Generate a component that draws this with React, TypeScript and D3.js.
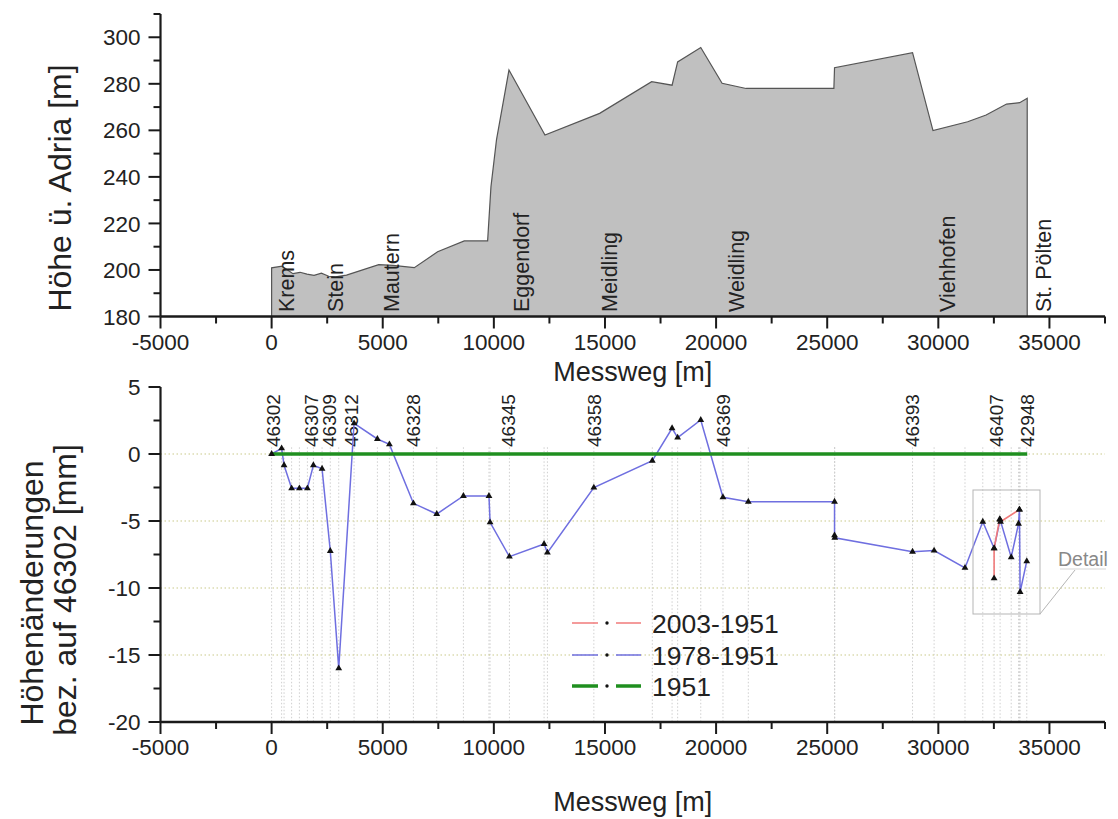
import React from 'react';
import * as d3 from 'd3';

// ---- Top chart: terrain profile (Messweg [m] vs. Höhe [m]) ----
const profileX = [0, 470, 960, 1280, 1590, 1910, 2240, 2570, 2880, 3370, 4820, 5460, 6420, 7470, 8670, 9720, 9870, 10120, 10680, 12300, 14760, 17100, 18020, 18270, 19310, 20270, 21350, 25300, 25330, 28840, 29760, 31320, 32150, 33070, 33660, 34000];
const profileH = [200.9, 201.6, 198.4, 199, 198.2, 197.7, 198.6, 197.3, 197, 197.8, 202.3, 202, 201, 207.8, 212.5, 212.5, 235.8, 256, 285.9, 258, 267.3, 280.9, 279.4, 289.4, 295.6, 280.2, 278, 278, 286.9, 293.4, 259.9, 263.7, 266.6, 271.3, 271.9, 273.8];

const townNames = ['Krems', 'Stein', 'Mautern', 'Eggendorf', 'Meidling', 'Weidling', 'Viehhofen', 'St. Pölten'];
const townX = [650, 2880, 5370, 11230, 15190, 20900, 30390, 34720];

// ---- Bottom chart: height changes [mm] ----
const s1978X = [0, 450, 560, 900, 1250, 1610, 1880, 2270, 2640, 3020, 3710, 4760, 5300, 6380, 7430, 8630, 9780, 9830, 10700, 12260, 12410, 14500, 17130, 18020, 18270, 19310, 20310, 21450, 25330, 25330, 25340, 28840, 29810, 31200, 32000, 32510, 32780, 33280, 33610, 33650, 33680, 33980];
const s1978Y = [0, 0.42, -0.84, -2.56, -2.56, -2.56, -0.84, -1.1, -7.24, -16.0, 2.29, 1.12, 0.72, -3.68, -4.48, -3.13, -3.13, -5.1, -7.66, -6.72, -7.36, -2.51, -0.5, 1.92, 1.22, 2.54, -3.23, -3.56, -3.56, -6.07, -6.25, -7.29, -7.21, -8.5, -5.05, -7.04, -4.9, -7.7, -5.2, -4.15, -10.3, -8.0];

const s2003X = [32510, 32510, 32760, 32800, 33650];
const s2003Y = [-9.28, -7.04, -4.87, -5.05, -4.15];

const s1951X = [0, 34000];
const s1951Y = [0, 0];

const stationNames = ['46302', '46307', '46309', '46312', '46328', '46345', '46358', '46369', '46393', '46407', '42948'];
const stationX = [60, 1770, 2580, 3570, 6360, 10640, 14500, 20310, 28840, 32600, 34000];

const xMajor = d3.range(-5000, 35001, 5000);
const xMinor = d3.range(-2500, 37501, 5000);
const yTopMajor = d3.range(180, 301, 20);
const yTopMinor = d3.range(190, 311, 20);
const yBotMajor = d3.range(-20, 5.1, 5);
const yBotMinor = d3.range(-17.5, 5, 5);
const hGrid = [0, -5, -10, -15];

const legendNames = ['2003-1951', '1978-1951', '1951'];
const legendColors = ['#f07a7a', '#6f6fe0', '#1f8f1f'];
const legendWidths = [1.5, 1.5, 3.5];

export default function App() {
  const W = 1118, H = 819;
  const font = '"Liberation Sans", Arial, Helvetica, sans-serif';
  const ax = '#1a1a1a';
  const x = d3.scaleLinear().domain([-5000, 37500]).range([160.5, 1105]);
  const yT = d3.scaleLinear().domain([180, 310]).range([316.5, 14]);
  const yB = d3.scaleLinear().domain([-20, 5]).range([722, 387]);
  const x0 = x(-5000), x1 = x(37500);

  const profPts: [number, number][] = [[0, 180], ...profileX.map((v, i) => [v, profileH[i]] as [number, number]), [profileX[profileX.length - 1], 180]];
  const profPath = (d3.line<[number, number]>().x(d => x(d[0])).y(d => yT(d[1]))(profPts) || '') + 'Z';

  const lineB = d3.line<[number, number]>().x(d => x(d[0])).y(d => yB(d[1]));
  const p1978 = s1978X.map((v, i) => [v, s1978Y[i]] as [number, number]);
  const p2003 = s2003X.map((v, i) => [v, s2003Y[i]] as [number, number]);
  const p1951 = s1951X.map((v, i) => [v, s1951Y[i]] as [number, number]);
  const tri = d3.symbol().type(d3.symbolTriangle).size(20)() || '';

  const xAxis = (yAx: number) => (
    <g>
      <line x1={x0} x2={x1} y1={yAx} y2={yAx} stroke={ax} strokeWidth={2.5} />
      {xMajor.map(v => <line key={'M' + v} x1={x(v)} x2={x(v)} y1={yAx} y2={yAx + 12} stroke={ax} strokeWidth={2} />)}
      {xMinor.map(v => <line key={'m' + v} x1={x(v)} x2={x(v)} y1={yAx} y2={yAx + 7} stroke={ax} strokeWidth={2} />)}
      {xMajor.map(v => <text key={'t' + v} x={x(v)} y={yAx + 33} textAnchor="middle" fontSize={22.5} fontFamily={font} fill="#222">{v}</text>)}
    </g>
  );

  const yAxis = (sc: d3.ScaleLinear<number, number>, major: number[], minor: number[], top: number, bottom: number) => (
    <g>
      <line x1={x0} x2={x0} y1={top} y2={bottom} stroke={ax} strokeWidth={2.2} />
      {major.map(v => <line key={'M' + v} x1={x0 - 12} x2={x0} y1={sc(v)} y2={sc(v)} stroke={ax} strokeWidth={2} />)}
      {minor.map(v => <line key={'m' + v} x1={x0 - 7} x2={x0} y1={sc(v)} y2={sc(v)} stroke={ax} strokeWidth={2} />)}
      {major.map(v => <text key={'t' + v} x={x0 - 20} y={sc(v)} dy="0.36em" textAnchor="end" fontSize={22.5} fontFamily={font} fill="#222">{v}</text>)}
    </g>
  );

  return (
    <svg width={W} height={H} style={{ position: 'absolute', left: 0, top: 0, background: '#fff' }}>
      {/* ===== Top chart ===== */}
      <path d={profPath} fill="#c0c0c0" stroke="#555" strokeWidth={1.2} />
      {townNames.map((n, i) => (
        <text key={n} transform={`translate(${x(townX[i])},312) rotate(-90)`} dy="0.36em" fontSize={21.5} fontFamily={font} fill="#222">{n}</text>
      ))}
      {xAxis(yT(180))}
      {yAxis(yT, yTopMajor, yTopMinor, yT(310), yT(180))}
      <text x={(x0 + x1) / 2} y={381} textAnchor="middle" fontSize={27} fontFamily={font} fill="#222">Messweg [m]</text>
      <text transform={`translate(71,188) rotate(-90)`} textAnchor="middle" fontSize={32} fontFamily={font} fill="#222">Höhe ü. Adria [m]</text>

      {/* ===== Bottom chart ===== */}
      {s1978X.map((v, i) => (
        <line key={'vg' + i} x1={x(v)} x2={x(v)} y1={yB(0.5)} y2={yB(-20)} stroke="#cfcfcf" strokeWidth={1} strokeDasharray="1.5,2" />
      ))}
      {hGrid.map(v => (
        <line key={'hg' + v} x1={x0} x2={x1} y1={yB(v)} y2={yB(v)} stroke="#c9c98a" strokeWidth={1.2} strokeDasharray="1.5,2.5" />
      ))}
      {stationNames.map((n, i) => (
        <text key={n} transform={`translate(${x(stationX[i])},447) rotate(-90)`} dy="0.36em" fontSize={19} fontFamily={font} fill="#222">{n}</text>
      ))}
      <path d={lineB(p1978) || ''} fill="none" stroke="#6f6fe0" strokeWidth={1.5} />
      <path d={lineB(p1951) || ''} fill="none" stroke="#1f8f1f" strokeWidth={3.5} />
      <path d={lineB(p2003) || ''} fill="none" stroke="#f07a7a" strokeWidth={1.6} />
      {p1978.map((d, i) => <path key={'b' + i} d={tri} transform={`translate(${x(d[0])},${yB(d[1])})`} fill="#111" />)}
      {p2003.map((d, i) => <path key={'r' + i} d={tri} transform={`translate(${x(d[0])},${yB(d[1])})`} fill="#111" />)}

      {/* Detail box */}
      <rect x={973} y={490} width={67} height={124} fill="none" stroke="#b5b5b5" strokeWidth={1} />
      <line x1={1040} y1={614} x2={1075} y2={570} stroke="#b5b5b5" strokeWidth={1} />
      <line x1={1060} y1={569} x2={1106} y2={569} stroke="#d5d5d5" strokeWidth={1} />
      <text x={1058} y={566} fontSize={19.5} fontFamily={font} fill="#888">Detail</text>

      {/* Legend */}
      {legendNames.map((n, i) => {
        const cy = [623, 655, 686][i];
        return (
          <g key={n}>
            <line x1={572} x2={598} y1={cy} y2={cy} stroke={legendColors[i]} strokeWidth={legendWidths[i]} />
            <line x1={616} x2={641} y1={cy} y2={cy} stroke={legendColors[i]} strokeWidth={legendWidths[i]} />
            <circle cx={607} cy={cy} r={1.7} fill="#111" />
            <text x={652} y={cy} dy="0.36em" fontSize={26.5} fontFamily={font} fill="#222">{n}</text>
          </g>
        );
      })}

      {xAxis(yB(-20))}
      {yAxis(yB, yBotMajor, yBotMinor, yB(5), yB(-20))}
      <text x={(x0 + x1) / 2} y={811} textAnchor="middle" fontSize={27} fontFamily={font} fill="#222">Messweg [m]</text>
      <text transform={`translate(43,593) rotate(-90)`} textAnchor="middle" fontSize={32} fontFamily={font} fill="#222">Höhenänderungen</text>
      <text transform={`translate(76,590) rotate(-90)`} textAnchor="middle" fontSize={32} fontFamily={font} fill="#222">bez. auf 46302 [mm]</text>
    </svg>
  );
}
